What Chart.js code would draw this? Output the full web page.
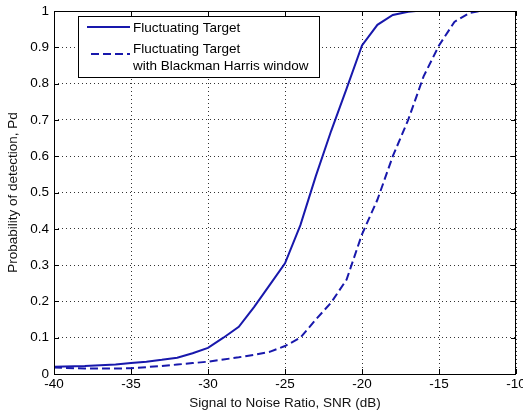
<!DOCTYPE html>
<html>
<head>
<meta charset="utf-8">
<script src="https://cdn.jsdelivr.net/npm/chart.js@4"></script>
<style>
  html, body { margin: 0; padding: 0; background: #fff; }
  #wrap { width: 523px; height: 417px; }
</style>
</head>
<body>
<div id="wrap"><canvas id="c" width="523" height="417"></canvas></div>
<script>
// ---- data ----
const snrSolid = [-40, -38, -36, -35, -34, -33, -32, -31, -30, -29, -28, -27, -26, -25, -24, -23, -22, -21, -20, -19, -18, -17, -16.5, -10];
const pdSolid  = [0.020, 0.022, 0.026, 0.030, 0.034, 0.039, 0.045, 0.057, 0.072, 0.100, 0.130, 0.185, 0.245, 0.305, 0.410, 0.545, 0.670, 0.786, 0.905, 0.962, 0.989, 0.998, 1.0, 1.0];

const snrDashed = [-40, -38, -36, -35, -34, -33, -32, -31, -30, -29, -28, -27, -26, -25, -24, -23, -22, -21, -20, -19, -18, -17, -16, -15, -14, -13, -12.3, -10];
const pdDashed  = [0.018, 0.015, 0.015, 0.016, 0.019, 0.022, 0.026, 0.030, 0.034, 0.040, 0.046, 0.053, 0.061, 0.077, 0.100, 0.150, 0.197, 0.260, 0.385, 0.480, 0.600, 0.700, 0.820, 0.905, 0.970, 0.995, 1.0, 1.0];

const xTicks = [-40, -35, -30, -25, -20, -15, -10];
const yTicks = [0, 0.1, 0.2, 0.3, 0.4, 0.5, 0.6, 0.7, 0.8, 0.9, 1];

const seriesLabels = [["Fluctuating Target"], ["Fluctuating Target", "with Blackman Harris window"]];
const xTitle = "Signal to Noise Ratio, SNR (dB)";
const yTitle = "Probability of detection, Pd";

const lineColor = "rgb(24,24,172)";
const FONT = "'Liberation Sans', Arial, sans-serif";
const FS = 13.5;

function toPts(xs, ys) { return xs.map((x, i) => ({ x: x, y: ys[i] })); }

const framePlugin = {
  id: 'frame',
  afterDatasetsDraw(chart) {
    const { ctx, chartArea: a, scales } = chart;
    ctx.save();
    ctx.strokeStyle = '#000';
    ctx.lineWidth = 1;
    ctx.setLineDash([]);
    ctx.beginPath();
    // inward tick marks
    xTicks.forEach(v => {
      const px = Math.round(scales.x.getPixelForValue(v)) + 0.5;
      ctx.moveTo(px, a.bottom); ctx.lineTo(px, a.bottom - 5);
      ctx.moveTo(px, a.top); ctx.lineTo(px, a.top + 5);
    });
    yTicks.forEach(v => {
      const py = Math.round(scales.y.getPixelForValue(v)) + 0.5;
      ctx.moveTo(a.left, py); ctx.lineTo(a.left + 5, py);
      ctx.moveTo(a.right, py); ctx.lineTo(a.right - 5, py);
    });
    ctx.stroke();
    ctx.strokeRect(Math.round(a.left) + 0.5, Math.round(a.top) + 0.5,
                   Math.round(a.right - a.left) - 1, Math.round(a.bottom - a.top));
    // legend box
    const bx = 78.5, by = 16.5, bw = 241, bh = 61;
    ctx.fillStyle = '#fff';
    ctx.fillRect(bx, by, bw, bh);
    ctx.strokeRect(bx, by, bw, bh);
    ctx.strokeStyle = lineColor;
    ctx.lineWidth = 2;
    ctx.beginPath(); ctx.moveTo(87, 27); ctx.lineTo(130, 27); ctx.stroke();
    ctx.setLineDash([8, 4]);
    ctx.beginPath(); ctx.moveTo(91, 54); ctx.lineTo(130, 54); ctx.stroke();
    ctx.setLineDash([]);
    ctx.fillStyle = '#000';
    ctx.font = FS + 'px ' + FONT;
    ctx.textBaseline = 'middle';
    ctx.textAlign = 'left';
    ctx.fillText(seriesLabels[0][0], 133, 28);
    ctx.fillText(seriesLabels[1][0], 133, 49);
    ctx.fillText(seriesLabels[1][1], 133, 66);
    ctx.restore();
  }
};

const bgPlugin = {
  id: 'bg',
  beforeDraw(chart) {
    const ctx = chart.ctx;
    ctx.save(); ctx.fillStyle = '#fff'; ctx.fillRect(0, 0, chart.width, chart.height); ctx.restore();
  }
};

new Chart(document.getElementById('c'), {
  type: 'line',
  data: {
    datasets: [
      { label: seriesLabels[0].join(' '), data: toPts(snrSolid, pdSolid), borderColor: lineColor, borderWidth: 2, pointRadius: 0, tension: 0, fill: false },
      { label: seriesLabels[1].join(' '), data: toPts(snrDashed, pdDashed), borderColor: lineColor, borderWidth: 2, borderDash: [8, 4], pointRadius: 0, tension: 0, fill: false }
    ]
  },
  options: {
    responsive: false,
    animation: false,
    devicePixelRatio: 1,
    layout: { padding: { top: 11, right: 7, left: 0, bottom: 0 } },
    plugins: { legend: { display: false }, tooltip: { enabled: false } },
    scales: {
      x: {
        type: 'linear', min: -40, max: -10,
        afterBuildTicks: s => { s.ticks = xTicks.map(v => ({ value: v })); },
        afterFit: s => { s.height = 43; s.paddingLeft = 0; s.paddingRight = 0; },
        ticks: { color: '#000', font: { family: FONT, size: FS }, padding: 2, maxRotation: 0, autoSkip: false },
        grid: { color: '#333', drawTicks: false, lineWidth: 1 },
        border: { display: false, dash: [1, 3] },
        title: { display: true, text: xTitle, color: '#111', font: { family: FONT, size: FS }, padding: { top: 0, bottom: 6 } }
      },
      y: {
        type: 'linear', min: 0, max: 1,
        afterBuildTicks: s => { s.ticks = yTicks.map(v => ({ value: v })); },
        afterFit: s => { s.width = 54; s.paddingTop = 0; s.paddingBottom = 0; },
        ticks: { color: '#000', font: { family: FONT, size: FS }, padding: 5, autoSkip: false,
                 callback: v => String(Number(v.toFixed(1))) },
        grid: { color: '#333', drawTicks: false, lineWidth: 1 },
        border: { display: false, dash: [1, 3] },
        title: { display: true, text: yTitle, color: '#111', font: { family: FONT, size: FS }, padding: { top: 5, bottom: 0 } }
      }
    }
  },
  plugins: [bgPlugin, framePlugin]
});
</script>
</body>
</html>
